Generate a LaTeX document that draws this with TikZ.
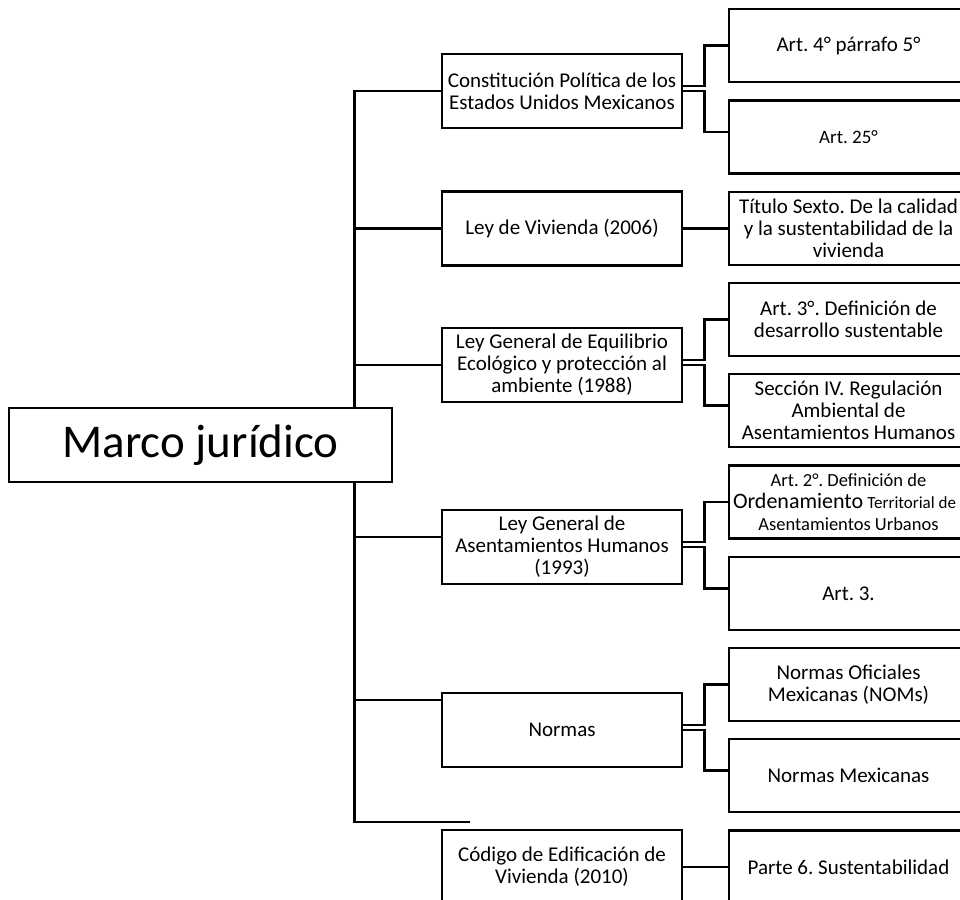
\documentclass[tikz,border=0pt]{standalone}
\usepackage{fontspec}
\setmainfont{Carlito}
\usepackage{tikz}

\tikzset{
  box/.style={draw, line width=2.5pt, fill=white, align=center, inner sep=0pt,
    font=\fontsize{21}{22}\selectfont},
  midbox/.style={box, minimum width=240pt, minimum height=74pt},
  artbox/.style={box, minimum width=239pt, minimum height=73pt},
  mainbox/.style={box, minimum width=383pt, minimum height=74pt,
    font=\fontsize{47}{50}\selectfont},
  link/.style={line width=2.5pt}
}
\newcommand{\longline}[1]{\makebox[231pt][l]{#1}}

\begin{document}
\frenchspacing
\begin{tikzpicture}[x=1pt,y=-1pt]
\useasboundingbox (0,0) rectangle (960,899);
\clip (0,0) rectangle (960,899);

% leyes
\node[midbox] (const) at (562,91) {Constitución Política de los\\Estados Unidos Mexicanos};
\node[midbox] (viv) at (562,228.5) {Ley de Vivienda (2006)};
\node[midbox] (lgeepa) at (562,365) {Ley General de Equilibrio\\Ecológico y protección al\\ambiente (1988)};
\node[midbox] (lgah) at (562,547) {Ley General de\\Asentamientos Humanos\\(1993)};
\node[midbox] (normas) at (562,730) {Normas};
\node[midbox] (codigo) at (562,867) {Código de Edificación de\\Vivienda (2010)};

% articulos
\node[artbox] (art4) at (848.5,45.5) {Art. 4° párrafo 5°};
\node[artbox, font=\fontsize{19}{22}\selectfont] (art25) at (848.5,137) {Art. 25°};
\node[artbox] (titulo) at (848.5,228.5) {Título Sexto. De la calidad\\y la sustentabilidad de la\\vivienda};
\node[artbox] (art3def) at (848.5,319.5) {Art. 3°. Definición de\\desarrollo sustentable};
\node[artbox] (secc4) at (848.5,410.5) {Sección IV. Regulación\\Ambiental de\\Asentamientos Humanos};
\node[artbox, font=\fontsize{18.5}{22}\selectfont] (art2) at (848.5,502)
  {Art. 2°. Definición de\\\longline{{\fontsize{22}{22}\selectfont Ordenamiento} {\fontsize{17}{22}\selectfont Territorial de}}\\Asentamientos Urbanos};
\node[artbox] (art3) at (848.5,593.5) {Art. 3.};
\node[artbox] (noms) at (848.5,684.5) {Normas Oficiales\\Mexicanas (NOMs)};
\node[artbox] (nmex) at (848.5,775.5) {Normas Mexicanas};
\node[artbox] (parte6) at (848.5,867) {Parte 6. Sustentabilidad};

% tronco
\coordinate (bot) at (354.6,822);
\coordinate (stub) at (470,822);
\draw[link] (const.west) -| (bot) -- (stub);
\draw[link] (viv.west) -- (viv.west -| bot);
\draw[link] (lgeepa.west) -- (lgeepa.west -| bot);
\draw[link] ([yshift=10pt]lgah.west) -- ([yshift=10pt]lgah.west -| bot);
\draw[link] ([yshift=30pt]normas.west) -- ([yshift=30pt]normas.west -| bot);

% llaves
\draw[link] ([yshift=5pt]const.east) -- ++(21,0) |- (art4.west);
\draw[link] (const.east) -- ++(21,0) |- ([yshift=5pt]art25.west);
\draw[link] (viv.east) -- (titulo.west);
\draw[link] ([yshift=5pt]lgeepa.east) -- ++(21,0) |- (art3def.west);
\draw[link] (lgeepa.east) -- ++(21,0) |- ([yshift=5pt]secc4.west);
\draw[link] ([yshift=5pt]lgah.east) -- ++(21,0) |- (art2.west);
\draw[link] (lgah.east) -- ++(21,0) |- ([yshift=5pt]art3.west);
\draw[link] ([yshift=5pt]normas.east) -- ++(21,0) |- (noms.west);
\draw[link] (normas.east) -- ++(21,0) |- ([yshift=5pt]nmex.west);
\draw[link] (codigo.east) -- (parte6.west);

\node[mainbox] (marco) at (200.5,445) {Marco jurídico};
\end{tikzpicture}
\end{document}
